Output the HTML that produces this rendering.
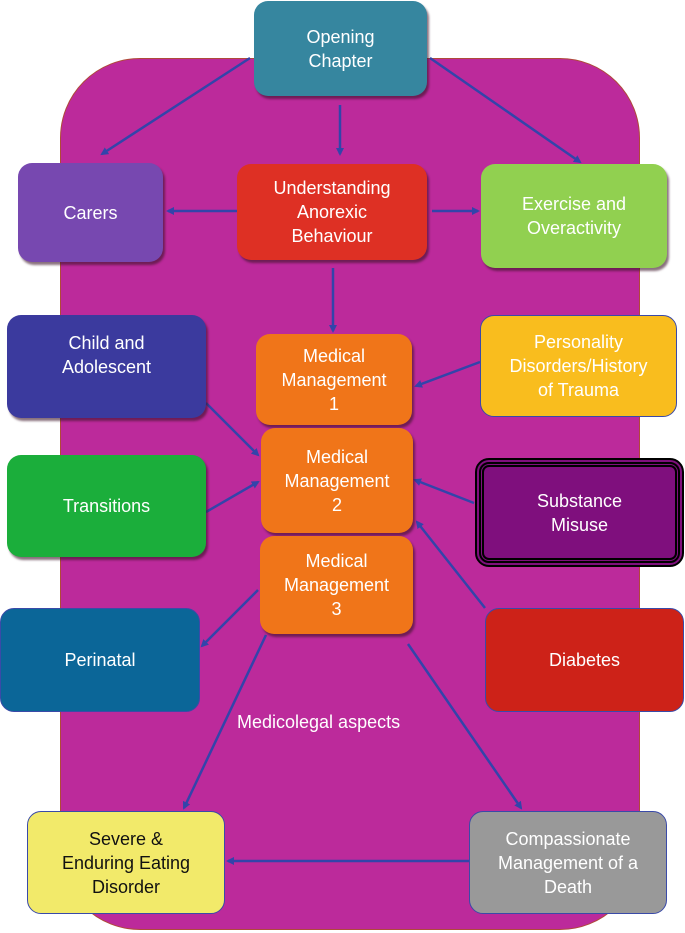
<!DOCTYPE html>
<html><head><style>
body{margin:0;width:685px;height:933px;position:relative;background:#fff;font-family:"Liberation Sans",sans-serif;overflow:hidden}
.panel{position:absolute;left:60px;top:58px;width:580px;height:872px;background:#bc2a9b;border-radius:80px;border:1px solid #b04a3a;box-sizing:border-box}
.b{position:absolute;box-sizing:border-box;border-radius:14px;display:flex;align-items:center;justify-content:center;text-align:center;color:#fff;font-size:18px;line-height:24px;box-shadow:2px 3px 2px rgba(60,20,40,.6)}
.bl{border:1.5px solid #3a4aa8;box-shadow:none}
</style></head><body>
<div class="panel"></div>
<svg width="685" height="933" style="position:absolute;left:0;top:0">
<defs><marker id="a" markerWidth="8" markerHeight="8" refX="6" refY="4" orient="auto" markerUnits="userSpaceOnUse"><path d="M0,0L8,4L0,8z" fill="#3344aa"/></marker></defs>
<g stroke="#3344aa" stroke-width="2.5" fill="none" marker-end="url(#a)">
<line x1="250" y1="58" x2="102" y2="154"/>
<line x1="340" y1="105" x2="340" y2="154"/>
<line x1="430" y1="58" x2="580" y2="162"/>
<line x1="237" y1="211" x2="168" y2="211"/>
<line x1="432" y1="211" x2="478" y2="211"/>
<line x1="333" y1="268" x2="333" y2="331"/>
<line x1="480" y1="362" x2="416" y2="386"/>
<line x1="206" y1="403" x2="258" y2="455"/>
<line x1="206" y1="512" x2="258" y2="482"/>
<line x1="474" y1="503" x2="415" y2="480"/>
<line x1="485" y1="608" x2="417" y2="522"/>
<line x1="258" y1="590" x2="202" y2="646"/>
<line x1="266" y1="635" x2="184" y2="808"/>
<line x1="408" y1="644" x2="521" y2="808"/>
<line x1="469" y1="861" x2="228" y2="861"/>
</g></svg>
<div class="b" style="left:254px;top:1px;width:173px;height:95px;background:#36869f">Opening<br>Chapter</div>
<div class="b" style="left:18px;top:163px;width:145px;height:99px;background:#7748b0">Carers</div>
<div class="b" style="left:237px;top:164px;width:190px;height:96px;background:#de3024">Understanding<br>Anorexic<br>Behaviour</div>
<div class="b" style="left:481px;top:164px;width:186px;height:104px;background:#91d050">Exercise and<br>Overactivity</div>
<div class="b" style="left:7px;top:315px;width:199px;height:103px;background:#3b3a9e">Child and<br>Adolescent<br>&nbsp;</div>
<div class="b" style="left:256px;top:334px;width:156px;height:91px;background:#f07519">Medical<br>Management<br>1</div>
<div class="b bl" style="left:480px;top:315px;width:197px;height:102px;background:#f9bd1e">Personality<br>Disorders/History<br>of Trauma</div>
<div class="b" style="left:261px;top:428px;width:152px;height:105px;background:#f07519">Medical<br>Management<br>2</div>
<div class="b" style="left:7px;top:455px;width:199px;height:102px;background:#1bae3b">Transitions</div>
<div class="b" style="left:475px;top:458px;width:209px;height:109px;background:#7f0f7d;border:3px double #000;outline:2px solid #000;outline-offset:-9px;box-shadow:none;border-width:6px">Substance<br>Misuse</div>
<div class="b" style="left:260px;top:536px;width:153px;height:98px;background:#f07519">Medical<br>Management<br>3</div>
<div class="b bl" style="left:0px;top:608px;width:200px;height:104px;background:#0b6698">Perinatal</div>
<div class="b bl" style="left:485px;top:608px;width:199px;height:104px;background:#cd2218">Diabetes</div>
<div style="position:absolute;left:237px;top:712px;color:#fff;font-size:18px">Medicolegal aspects</div>
<div class="b bl" style="left:27px;top:811px;width:198px;height:103px;background:#f2ea6a;color:#111">Severe &amp;<br>Enduring Eating<br>Disorder</div>
<div class="b bl" style="left:469px;top:811px;width:198px;height:103px;background:#999">Compassionate<br>Management of a<br>Death</div>
</body></html>
